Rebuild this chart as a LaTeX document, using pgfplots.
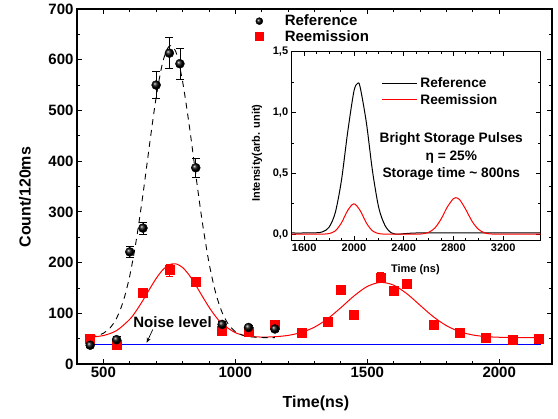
\documentclass[border=0pt]{standalone}
\usepackage{fontspec}
\setmainfont{Liberation Sans}
\usepackage{pgfplots}
\pgfplotsset{compat=1.18}
\usetikzlibrary{arrows.meta}

\pgfplotsset{
  figaxis/.style={
    scale only axis,
    axis line style={line width=1.1pt},
    every tick/.style={black, line width=0.8pt},
    /pgf/number format/assume math mode=true,
    /pgf/number format/1000 sep={},
  },
}

\begin{document}
\begin{tikzpicture}[x=1pt,y=1pt]
\useasboundingbox (0,0) rectangle (558,419);

% main panel
\begin{axis}[figaxis,
  at={(77pt,55pt)}, anchor=south west,
  width=475pt, height=355pt,
  xmin=400, xmax=2200, ymin=0, ymax=700,
  xtick={500,1000,1500,2000}, minor x tick num=4,
  ytick={0,100,...,700}, minor y tick num=1,
  major tick length=5pt, minor tick length=3pt,
  tick label style={font=\bfseries\fontsize{15}{15}\selectfont},
  xlabel={Time(ns)}, ylabel={Count/120ms},
  xlabel style={at={(axis description cs:0.503,-0.11)}, anchor=center,
    font=\bfseries\fontsize{16}{16}\selectfont},
  ylabel style={at={(axis description cs:-0.1095,0.47)}, rotate=0, anchor=center,
    font=\bfseries\fontsize{16}{16}\selectfont},
  legend style={at={(axis description cs:0.375,0.988)}, anchor=north west,
    draw=none, fill=none, inner sep=0pt,
    font=\bfseries\fontsize{15}{15}\selectfont,
    /tikz/every odd column/.append style={column sep=20pt},
    nodes={inner sep=1.5pt}},
  legend cell align=left,
]
% fits
\addplot[red, line width=1pt, smooth, forget plot] coordinates {
  (450,53.0)(500,56.1)(550,65.9)(600,88.2)(625,105.3)(650,125.6)(675,147.6)
  (700,168.6)(725,185.7)(750,195.9)(775,197.5)(800,190.3)(825,175.4)(850,155.5)
  (875,133.5)(900,112.3)(925,93.9)(950,79.4)(1000,61.7)(1050,54.9)(1100,53.1)
  (1150,53.8)(1200,56.4)(1250,62.2)(1300,72.7)(1350,89.3)(1400,111.1)(1450,134.3)
  (1500,152.9)(1550,160.9)(1600,155.5)(1650,138.6)(1700,115.8)(1750,93.3)
  (1800,75.6)(1850,63.8)(1900,57.2)(1950,54.0)(2000,52.7)(2050,52.2)(2100,52.1)(2150,52.0)
};
\addplot[black, dash pattern=on 6pt off 5pt, line width=0.9pt, smooth, forget plot] coordinates {
  (450,53.4)(475,55.7)(500,60.7)(525,71.0)(550,90.2)(575,123.1)(600,174.1)
  (625,245.5)(650,334.6)(675,433.0)(700,526.0)(725,595.5)(750,627.1)(775,615)
  (800,557.4)(825,471.8)(850,373.6)(875,279.3)(900,200.2)(925,141.2)(950,101.5)
  (975,77.3)(1000,63.9)(1025,57.2)(1050,54.1)(1100,52.2)(1150,52.0)
};
% noise level
\addplot[blue, line width=1.3pt, forget plot] coordinates {(450,38) (2160,38)};
% reemission
\addplot[only marks, mark=square*, mark size=4.5pt, red, forget plot,
  error bars/.cd, y dir=both, y explicit,
  error bar style={red, line width=0.8pt},
  error mark options={rotate=90, red, mark size=3.5pt, line width=0.8pt}] coordinates {
  (450,50) +- (0,4)  (550,39) +- (0,4)  (650,141) +- (0,6)  (750,185) +- (0,12)
  (850,162) +- (0,8) (950,65) +- (0,5)  (1050,64) +- (0,5)  (1150,77) +- (0,5)
  (1250,62) +- (0,5) (1350,83) +- (0,5) (1400,147) +- (0,6) (1450,98) +- (0,5)
  (1550,171) +- (0,10) (1600,145) +- (0,7) (1650,159) +- (0,8) (1750,77) +- (0,5)
  (1850,62) +- (0,5) (1950,52) +- (0,5) (2050,47) +- (0,5) (2150,49) +- (0,5)
};
% reference
\addplot[only marks, mark=ball, mark size=4.5pt, mark options={ball color=black}, forget plot,
  error bars/.cd, y dir=both, y explicit,
  error bar style={black, line width=0.8pt},
  error mark options={rotate=90, black, mark size=4pt, line width=0.8pt}] coordinates {
  (450,37) +- (0,5)   (550,48) +- (0,6)   (600,221) +- (0,10) (650,268) +- (0,12)
  (700,550) +- (0,27) (750,613) +- (0,30) (790,592) +- (0,30) (850,387) +- (0,19)
  (950,78) +- (0,6)   (1050,72) +- (0,5)  (1150,69) +- (0,5)
};
\addlegendimage{only marks, mark=ball, mark size=3.5pt, mark options={ball color=black}}
\addlegendentry{Reference}
\addlegendimage{only marks, mark=square*, mark size=4pt, red}
\addlegendentry{Reemission}

\node[font=\bfseries\fontsize{15}{15}\selectfont] at (axis cs:762,83) {Noise level};
\draw[line width=0.7pt, -{Stealth[length=5pt,width=4pt]}] (axis cs:687,68) -- (axis cs:664,42);
\end{axis}

% inset
\begin{axis}[figaxis,
  at={(291.7pt,178.7pt)}, anchor=south west,
  width=248.8pt, height=188.6pt,
  xmin=1500, xmax=3500, ymin=-0.05, ymax=1.5,
  xtick={1600,2000,...,3200}, minor x tick num=3,
  ytick={0,0.5,1,1.5}, minor y tick num=1,
  major tick length=4pt, minor tick length=2.5pt,
  axis line style={line width=1pt},
  yticklabel style={/pgf/number format/.cd, use comma, fixed, fixed zerofill, precision=1, 1000 sep={}},
  tick label style={font=\bfseries\fontsize{11}{11}\selectfont},
  axis background/.style={fill=white},
  xlabel={Time (ns)}, ylabel={Intensity(arb. unit)},
  xlabel style={at={(axis description cs:0.497,-0.157)}, anchor=center,
    font=\bfseries\fontsize{11}{11}\selectfont},
  ylabel style={at={(axis description cs:-0.139,0.463)}, rotate=0, anchor=center,
    font=\bfseries\fontsize{11}{11}\selectfont},
  legend style={at={(axis description cs:0.362,0.875)}, anchor=north west,
    draw=none, fill=none, inner sep=0pt,
    font=\bfseries\fontsize{13.7}{13.7}\selectfont,
    nodes={inner sep=2.4pt}},
  legend cell align=left,
  legend image code/.code={\draw[#1, line width=1pt] (0pt,0pt) -- (35pt,0pt);},
]
\addplot[black, line width=1pt, smooth] coordinates {
  (1500,0.01)(1600,0.01)(1700,0.012)(1750,0.020)(1800,0.057)(1850,0.176)
  (1900,0.443)(1950,0.839)(2000,1.174)(2030,1.24)(2050,1.210)(2100,0.919)
  (2150,0.516)(2200,0.217)(2250,0.072)(2300,0.012)(2350,0.0)(2400,0.004)
  (2500,0.01)(2700,0.01)(2900,0.01)(3100,0.01)(3300,0.01)(3500,0.01)
};
\addlegendentry{Reference}
\addplot[red, line width=1pt, smooth] coordinates {
  (1500,0)(1600,0)(1700,0)(1750,0.001)(1800,0.005)(1850,0.027)(1900,0.093)
  (1950,0.195)(2000,0.25)(2050,0.195)(2100,0.093)(2150,0.027)(2200,0.005)
  (2250,0.001)(2300,0)(2400,0)(2500,0)(2550,0.003)(2600,0.015)(2650,0.050)
  (2700,0.123)(2750,0.222)(2800,0.293)(2820,0.30)(2850,0.284)(2900,0.202)
  (2950,0.106)(3000,0.041)(3050,0.011)(3100,0.002)(3200,0)(3350,0)(3500,0)
};
\addlegendentry{Reemission}
\node[font=\bfseries\fontsize{13.7}{17.5}\selectfont, align=center] at (axis cs:2783,0.636)
  {Bright Storage Pulses\\η = 25\%\\Storage time \textasciitilde{} 800ns};
\end{axis}
\end{tikzpicture}
\end{document}
